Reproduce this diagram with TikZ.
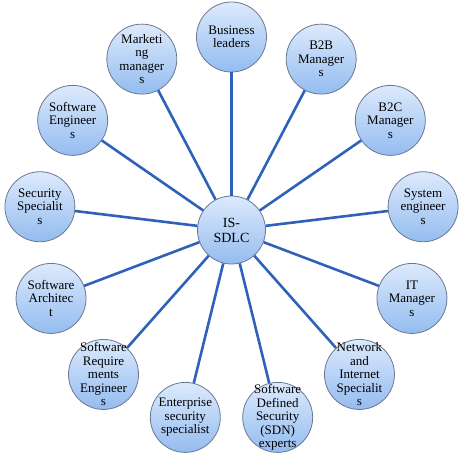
\documentclass[tikz,border=0pt]{standalone}
\usepackage{fontspec}
\setmainfont{Liberation Serif}
\usepackage{tikz}
\usetikzlibrary{arrows.meta,shapes}
\definecolor{linkblue}{RGB}{46,98,186}
\definecolor{rimgray}{RGB}{105,120,145}
\definecolor{balltop}{RGB}{220,234,252}
\definecolor{ballbot}{RGB}{148,188,240}

\begin{document}
\begin{tikzpicture}[x=1pt,y=1pt,
ball/.style={shape=circle,draw=rimgray,line width=0.8pt,top color=balltop,bottom color=ballbot,inner sep=0pt,minimum size=70pt},
balltext/.style={align=center,font=\fontsize{13}{13.5}\selectfont},
link/.style={draw=linkblue,line width=2.6pt}]
\useasboundingbox(-231.5,-230)rectangle(231.5,230);
\node[ball,minimum size=68pt](hub)at(0,0){};
\node[balltext,font=\fontsize{14}{15}\selectfont]at(hub){IS-\\SDLC};
\foreach \t [count=\i] in {{Business\\leaders},{B2B\\Manager\\s},{B2C\\Manager\\s},
{System\\engineer\\s},{IT\\Manager\\s},{Network\\and\\Internet\\Specialit\\s},
{Software\\Defined\\Security\\(SDN)\\experts},{Enterprise\\security\\specialist},
{Software\\Require\\ments\\Engineer\\s},{Software\\Architec\\t},{Security\\Specialit\\s},
{Software\\Engineer\\s},{Marketi\\ng\\manager\\s}}
{\node[ball](r\i)at({90-(\i-1)*360/13}:193){};
\node[balltext]at(r\i){\t};
\draw[link](hub)--(r\i);}
\end{tikzpicture}
\end{document}
